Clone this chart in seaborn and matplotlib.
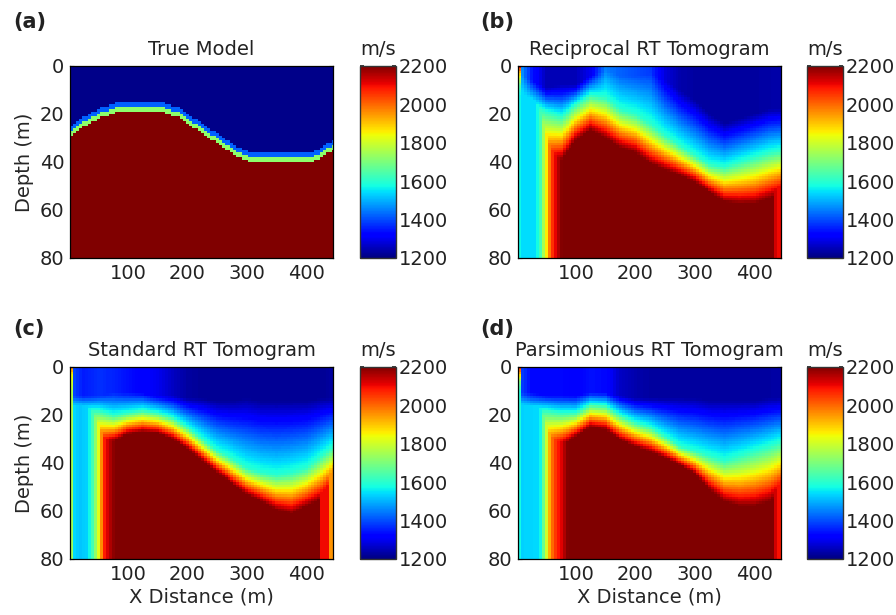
import numpy as np
import pandas as pd
import matplotlib.pyplot as plt
import seaborn as sns

sns.set_theme(style="white")
plt.rcParams['font.family'] = ['DejaVu Sans']
plt.rcParams['font.size'] = 14
plt.rcParams['text.color'] = '#222222'

# %% velocity grid: cell centres (m), 5 m wide and 1 m thick
x_cells = np.arange(5, 450, 5)
z_cells = np.arange(0.5, 80, 1.0)

# %% (a) true model: depth of the top of the fast (2200 m/s) layer
true_x = [2.5, 30, 55, 78, 159, 185, 236, 290, 313, 401, 425, 445]
true_depth = [29, 24.6, 21.5, 19.3, 19.3, 21.5, 30, 38.5, 40.5, 40.5, 38, 35]
true_band_v = [2200, 1720, 1420, 1210]   # below, two 2 m bands above, top layer

# %% tomograms
# v_top = velocity of the shallow layer, z_top = its base,
# z_mid = depth of the 1600 m/s contour, z_red = top of the 2200 m/s body
col_x = [5, 25, 50, 75, 100, 125, 150, 175, 200, 225, 250, 275, 300, 325, 350, 375, 400, 425, 445]

# (b) reciprocal
rec_v_top = [1500, 1350, 1250, 1250, 1250, 1300, 1450, 1420, 1400, 1380, 1280, 1240, 1230, 1230, 1230, 1230, 1230, 1235, 1240]
rec_z_top = [3, 6, 9, 8, 8, 4, 2, 4, 4, 3, 6, 10, 14, 20, 24, 22, 20, 18, 18]
rec_z_mid = [16, 16, 19, 21, 16, 12, 13, 18, 20, 24, 29, 33, 37, 41, 42, 40, 38, 36, 35]
rec_z_red = [42, 42, 41, 39, 31, 26.7, 30, 34, 36, 40.6, 43.3, 45.5, 48.2, 52.5, 56.5, 57.2, 57.2, 55, 53]
rec_lat_x = [7.5, 30, 36, 42, 46, 50, 55, 60, 66, 72, 76, 430, 437, 445]
rec_lat_v = [1540, 1540, 1580, 1660, 1780, 1860, 1980, 2060, 2120, 2180, 2200, 2200, 2100, 2100]
rec_edge_z = [0, 2, 5, 8, 12, 80]
rec_edge_v = [2150, 1950, 1800, 1650, 1570, 1570]

# (c) standard
std_v_top = [1400, 1350, 1370, 1360, 1340, 1320, 1300, 1260, 1230, 1220, 1220, 1220, 1220, 1220, 1220, 1220, 1220, 1220, 1230]
std_z_top = [12, 12, 12, 11, 11, 11, 12, 12, 13, 13, 14, 14, 13, 14, 14, 14, 14, 13, 13]
std_z_mid = [18, 18, 18, 20, 19, 18, 19, 21, 25, 30, 35, 38, 42, 44, 45, 44, 42, 37, 33]
std_z_red = [36, 36, 33, 31, 28, 27, 27.5, 30, 34, 39, 44, 48.5, 53, 56, 59.5, 61, 58, 55, 50]
std_lat_x = [7.5, 20, 30, 35, 40, 45, 50, 55, 60, 65, 70, 78, 420, 422, 435, 437, 445]
std_lat_v = [1540, 1520, 1530, 1570, 1630, 1720, 1820, 1960, 2080, 2120, 2160, 2200, 2200, 2100, 2100, 1950, 1950]
std_edge_z = [0, 3, 10, 80]
std_edge_v = [2000, 1850, 1760, 1740]

# (d) parsimonious
par_v_top = [1400, 1330, 1330, 1330, 1320, 1340, 1330, 1260, 1240, 1230, 1230, 1230, 1230, 1230, 1230, 1230, 1230, 1230, 1235]
par_z_top = [11, 11, 12, 12, 12, 11, 11, 12, 13, 13, 13, 13, 13, 14, 14, 14, 14, 13, 13]
par_z_mid = [18, 18, 18, 19, 19, 15.5, 16, 20, 23, 25, 29, 33, 35, 37, 39, 37, 35, 33, 31]
par_z_red = [38, 38, 36, 33, 29, 25, 26, 30.4, 33.2, 35.3, 38, 40.8, 44.3, 51, 56, 58, 58, 56, 52]
par_lat_x = [7.5, 39, 40, 45, 50, 55, 60, 68, 76, 82, 86, 430, 437, 445]
par_lat_v = [1530, 1540, 1570, 1680, 1800, 1920, 2000, 2080, 2120, 2180, 2200, 2200, 2100, 2080]
par_edge_z = [0, 3, 6, 10, 80]
par_edge_v = [2100, 1900, 1700, 1590, 1570]

titles = ['True Model', 'Reciprocal RT Tomogram', 'Standard RT Tomogram', 'Parsimonious RT Tomogram']
panel_tags = ['(a)', '(b)', '(c)', '(d)']


def true_model():
    zi = np.interp(x_cells, true_x, true_depth)
    d = z_cells[:, None] - zi[None, :]
    grid = np.select([d >= 0, d >= -2, d >= -4], true_band_v[:3], true_band_v[3])
    return pd.DataFrame(grid, index=z_cells, columns=x_cells)


def tomogram(v_top, z_top, z_mid, z_red, lat_x, lat_v, edge_z, edge_v):
    vt = np.interp(x_cells, col_x, v_top)
    zt = np.interp(x_cells, col_x, z_top)
    zm = np.interp(x_cells, col_x, z_mid)
    zr = np.interp(x_cells, col_x, z_red)
    grid = np.empty((len(z_cells), len(x_cells)))
    for j in range(len(x_cells)):
        grid[:, j] = np.interp(z_cells, [0, zt[j], zm[j], zr[j]],
                               [vt[j], vt[j], 1600, 2200])
    # slow strips along the borehole walls
    grid = np.minimum(grid, np.interp(x_cells, lat_x, lat_v)[None, :])
    grid[:, 0] = np.interp(z_cells, edge_z, edge_v)
    return pd.DataFrame(grid, index=z_cells, columns=x_cells)


fields = [
    true_model(),
    tomogram(rec_v_top, rec_z_top, rec_z_mid, rec_z_red, rec_lat_x, rec_lat_v, rec_edge_z, rec_edge_v),
    tomogram(std_v_top, std_z_top, std_z_mid, std_z_red, std_lat_x, std_lat_v, std_edge_z, std_edge_v),
    tomogram(par_v_top, par_z_top, par_z_mid, par_z_red, par_lat_x, par_lat_v, par_edge_z, par_edge_v),
]

# %% layout (pixels, measured off the reference)
W, H = 896, 615
fig = plt.figure(figsize=(W / 100, H / 100), dpi=100)
ax_left = [70, 518, 70, 518]
cb_left = [360, 807, 360, 807]
ax_top = [66, 66, 367, 367]
ax_w, ax_h, cb_w = 263, 192, 36

x_to_cell = lambda x: (x - 2.5) / 5.0

for k, df in enumerate(fields):
    ax = fig.add_axes([ax_left[k] / W, 1 - (ax_top[k] + ax_h) / H, ax_w / W, ax_h / H])
    cax = fig.add_axes([cb_left[k] / W, 1 - (ax_top[k] + ax_h) / H, cb_w / W, ax_h / H])
    sns.heatmap(df, cmap='jet', vmin=1200, vmax=2200, ax=ax, cbar_ax=cax,
                xticklabels=False, yticklabels=False, rasterized=True)
    # image runs a hair past the frame on the right, like the original
    ax.collections[0].set_clip_on(False)
    ax.set_xlim(0, x_to_cell(445))
    ax.set_ylim(80, 0)
    ax.set_xticks([x_to_cell(v) for v in [100, 200, 300, 400]])
    ax.set_xticklabels(['100', '200', '300', '400'])
    ax.set_yticks([0, 20, 40, 60, 80])
    ax.set_yticklabels(['0', '20', '40', '60', '80'], rotation=0)
    ax.tick_params(direction='in', length=3, width=0.8, top=True, right=True,
                   bottom=True, left=True, labelsize=14, pad=4, colors='black',
                   labelcolor='#222222')
    for sp in ax.spines.values():
        sp.set_visible(True)
        sp.set_color('black')
        sp.set_linewidth(0.9)
        sp.set_zorder(5)
    ax.set_title(titles[k], fontsize=14, pad=8)
    ax.set_xlabel('X Distance (m)' if k >= 2 else '', fontsize=14, labelpad=3)
    ax.set_ylabel('Depth (m)' if k % 2 == 0 else '', fontsize=14, labelpad=4)

    cb = ax.collections[0].colorbar
    cb.set_ticks([1200, 1400, 1600, 1800, 2000, 2200])
    cb.outline.set_linewidth(1.0)
    cb.outline.set_edgecolor('#333333')
    cb.ax.tick_params(direction='in', length=3, left=True, right=True,
                      labelsize=14, pad=2, labelcolor='#222222')
    cb.ax.set_title('m/s', fontsize=14, pad=8)

    fig.text((13 if k % 2 == 0 else 480) / W, 1 - (12 if k < 2 else 319) / H,
             panel_tags[k], fontsize=15, fontweight='bold', va='top', ha='left')

plt.savefig('out.png', dpi=100)
